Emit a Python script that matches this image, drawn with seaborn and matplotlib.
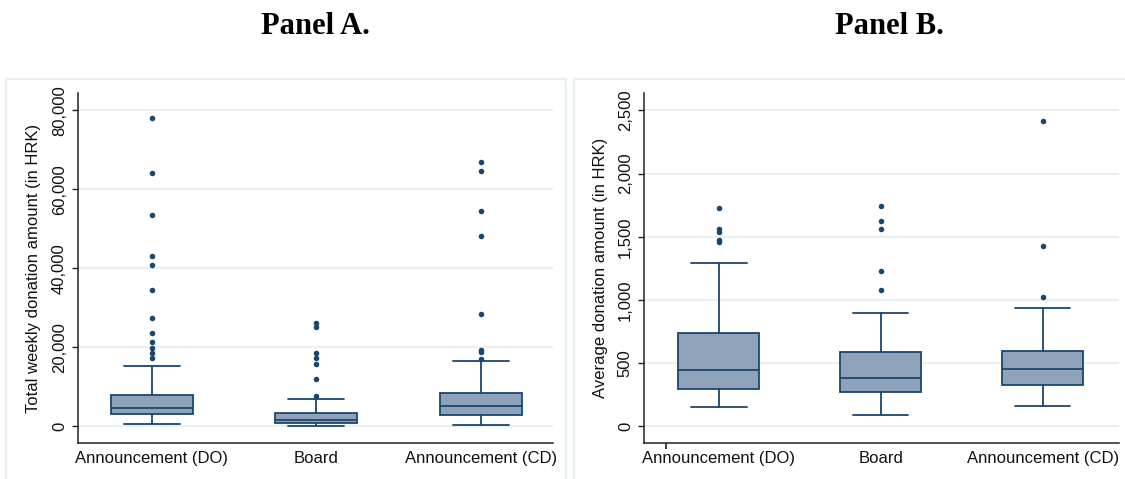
import matplotlib
matplotlib.use("Agg")
import matplotlib.pyplot as plt
from matplotlib.patches import Rectangle
import seaborn as sns
import pandas as pd

# ---------------- data ----------------
categories = ["Announcement (DO)", "Board", "Announcement (CD)"]

# Panel A: total weekly donation amount (HRK)
a_whislo = [630, 50, 460]
a_q1 = [3090, 810, 2910]
a_med = [4760, 1650, 5190]
a_q3 = [8050, 3420, 8560]
a_whishi = [15320, 7040, 16660]
a_out_do = [78030, 64260, 53550, 43170, 40890, 34560, 27470, 23600, 21320, 19950, 18690, 17420]
a_out_board = [26280, 25190, 18610, 17270, 15900, 11950, 7720]
a_out_cd = [67050, 64690, 54560, 48310, 28560, 19290, 18790, 17150]
a_ticks = [0, 20000, 40000, 60000, 80000]
a_ticklabels = ["0", "20,000", "40,000", "60,000", "80,000"]
a_ylabel = "Total weekly donation amount (in HRK)"

# Panel B: average donation amount (HRK)
b_whislo = [151, 87, 164]
b_q1 = [294, 275, 329]
b_med = [448, 381, 456]
b_q3 = [738, 590, 595]
b_whishi = [1289, 894, 937]
b_out_do = [1730, 1561, 1535, 1471, 1458]
b_out_board = [1744, 1627, 1561, 1228, 1079]
b_out_cd = [2418, 1429, 1027]
b_ticks = [0, 500, 1000, 1500, 2000, 2500]
b_ticklabels = ["0", "500", "1,000", "1,500", "2,000", "2,500"]
b_ylabel = "Average donation amount (in HRK)"

titles = ["Panel A.", "Panel B."]

# ---------------- style ----------------
sns.set_theme(style="white")
plt.rcParams["font.family"] = ["Liberation Sans", "DejaVu Sans"]

NAVY = "#1A476F"
FILL = "#8EA3B9"
GRID = "#E8F0F2"
AXC = "#222222"

W, H = 1125, 479
fig = plt.figure(figsize=(W / 100, H / 100), dpi=100)
fig.patch.set_facecolor("white")

def fx(px):
    return px / W

def fy(py):
    return 1 - py / H

# panel frames (bottom and far-right edges run off the image)
for (x0, x1) in [(6, 566), (574, 1140)]:
    fig.patches.append(Rectangle((fx(x0), fy(500)), fx(x1 - x0), (500 - 79) / H,
                                 transform=fig.transFigure, fill=False,
                                 edgecolor=GRID, linewidth=1.5, zorder=0))

panels = [
    dict(left=78, right=553, whislo=a_whislo, q1=a_q1, med=a_med, q3=a_q3, whishi=a_whishi,
         outs=[a_out_do, a_out_board, a_out_cd], ticks=a_ticks, ticklabels=a_ticklabels,
         ylabel=a_ylabel, ylim=(-4200, 84400), xlim=(-0.45, 2.44), title_x=315, minor=None,
         label_px=41),
    dict(left=644, right=1119, whislo=b_whislo, q1=b_q1, med=b_med, q3=b_q3, whishi=b_whishi,
         outs=[b_out_do, b_out_board, b_out_cd], ticks=b_ticks, ticklabels=b_ticklabels,
         ylabel=b_ylabel, ylim=(-132, 2638), xlim=(-0.463, 2.47), title_x=889, minor=-0.33,
         label_px=608),
]

top_px, bot_px = 93, 443
for i, p in enumerate(panels):
    ax = fig.add_axes([fx(p["left"]), fy(bot_px), fx(p["right"] - p["left"]), (bot_px - top_px) / H])
    ax.set_facecolor("white")

    # outliers via seaborn
    rows = []
    for cat, vals in zip(categories, p["outs"]):
        for v in vals:
            rows.append({"group": cat, "value": v})
    df = pd.DataFrame(rows)
    sns.stripplot(data=df, x="group", y="value", order=categories, jitter=False,
                  color=NAVY, size=4.0, linewidth=0, ax=ax, zorder=4)

    stats = []
    for j, cat in enumerate(categories):
        stats.append(dict(label=cat, whislo=p["whislo"][j], q1=p["q1"][j], med=p["med"][j],
                          q3=p["q3"][j], whishi=p["whishi"][j], fliers=[]))
    ax.bxp(stats, positions=[0, 1, 2], widths=0.5, showfliers=False, patch_artist=True,
           manage_ticks=False,
           boxprops=dict(facecolor=FILL, edgecolor=NAVY, linewidth=1.3),
           medianprops=dict(color=NAVY, linewidth=1.3),
           whiskerprops=dict(color=NAVY, linewidth=1.3),
           capprops=dict(color=NAVY, linewidth=1.3), capwidths=0.34, zorder=3)

    ax.set_xlim(*p["xlim"])
    ax.set_ylim(*p["ylim"])
    ax.set_xticks([0, 1, 2])
    ax.set_xticklabels(categories, fontsize=12, color="#111111")
    ax.set_yticks(p["ticks"])
    ax.set_yticklabels(p["ticklabels"], fontsize=12, color="#111111")
    for lbl in ax.get_yticklabels():
        lbl.set_rotation(90)
        lbl.set_va("center")
    ax.tick_params(axis="x", length=0, pad=6)
    ax.tick_params(axis="y", length=4, width=1, color=AXC, pad=4, left=True)
    if p["minor"] is not None:
        ax.set_xticks([p["minor"]], minor=True)
        ax.tick_params(axis="x", which="minor", length=4, width=1.2, color=AXC, bottom=True)

    ax.yaxis.grid(True, color=GRID, linewidth=1.5)
    ax.xaxis.grid(False)
    ax.set_axisbelow(True)
    for s in ["top", "right"]:
        ax.spines[s].set_visible(False)
    for s in ["left", "bottom"]:
        ax.spines[s].set_color(AXC)
        ax.spines[s].set_linewidth(1.1)

    ax.set_xlabel("")
    ax.set_ylabel(p["ylabel"], fontsize=12, color="#111111")
    ax.yaxis.set_label_coords((p["label_px"] - p["left"]) / (p["right"] - p["left"]), 0.5)

    fig.text(fx(p["title_x"]), fy(27), titles[i], ha="center", va="center",
             fontsize=22, fontweight="bold", family=["Liberation Serif", "DejaVu Serif"], color="black")

fig.savefig("out.png", dpi=100, facecolor="white")
